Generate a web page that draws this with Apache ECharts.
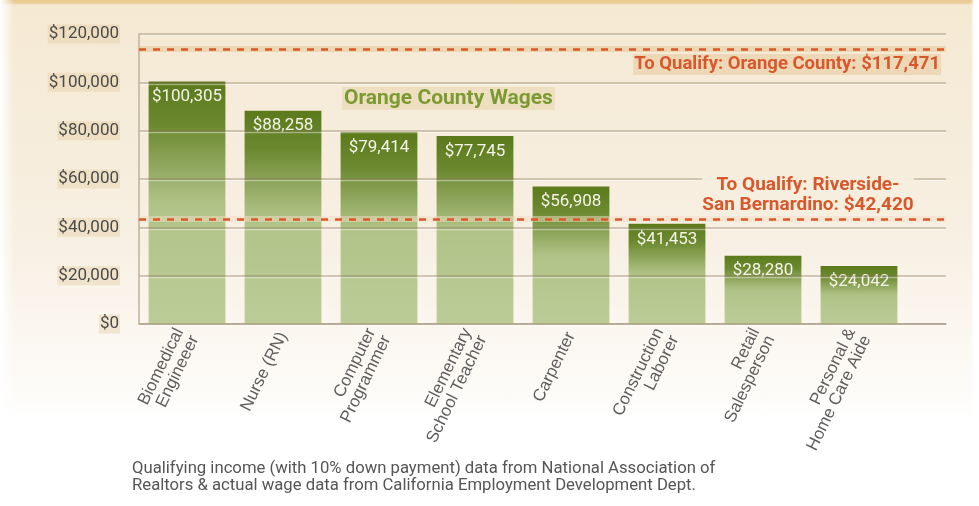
<!DOCTYPE html>
<html>
<head>
<meta charset="utf-8">
<script src="https://cdn.jsdelivr.net/npm/echarts@6/dist/echarts.min.js"></script>
<style>
html, body { margin: 0; padding: 0; background: #fff; }
#myChart {
	width: 979px; height: 506px;
	background:
		linear-gradient(to right, #fff 0, rgba(255,255,255,0) 14px, rgba(255,255,255,0) 971px, #fff 974px),
		linear-gradient(to bottom, #e8c98f 0, #ebd09d 3px, #f5e9d3 5px, #f6ecda 120px, #f8f0e4 250px, #fbf7f0 330px, #fdfbf8 390px, #fff 420px);
}
</style>
</head>
<body>
<div id="myChart"></div>
<script>
var categories = ['Biomedical\nEngineeer', 'Nurse (RN)', 'Computer\nProgrammer', 'Elementary\nSchool Teacher',
	'Carpenter', 'Construction\nLaborer', 'Retail\nSalesperson', 'Personal &\nHome Care Aide'];
var wages = [100305, 88258, 79414, 77745, 56908, 41453, 28280, 24042];
// where the dashed lines sit in the picture, and what they say
var qualifyLevels = [113800, 43450];
var qualifyText = ['To Qualify: Orange County: $117,471', 'To Qualify: Riverside-\nSan Bernardino: $42,420'];
var yTicks = [0, 20000, 40000, 60000, 80000, 100000, 120000];

var narrow = "Roboto, 'Liberation Sans', sans-serif";
var money = function(v){
	return '$' + Number(v).toLocaleString('en-US');
};

var myChart = echarts.init(document.getElementById('myChart'));
var option = {
	backgroundColor: 'transparent',
	title: [{
		text: 'Orange County Wages',
		left: 342, top: 87,
		padding: [1, 2],
		backgroundColor: 'rgba(228,205,160,0.4)',
		textStyle: { color: '#7b9a30', fontSize: 21, fontWeight: 'bold', fontFamily: narrow }
	}, {
		text: 'Qualifying income (with 10% down payment) data from National Association of\nRealtors & actual wage data from California Employment Development Dept.',
		left: 132, top: 460,
		padding: 0,
		textStyle: { color: '#555', fontSize: 16.7, lineHeight: 17, fontWeight: 'normal', fontFamily: narrow }
	}],
	grid: [
		{ left: 139, right: 33, top: 34, height: 290 },
		{ left: 139, width: 768, top: 34, height: 290 }
	],
	xAxis: [{
		gridIndex: 0, type: 'category', data: categories,
		axisLine: { lineStyle: { color: '#c2baa9', width: 1.5 } },
		axisTick: { show: false }, axisLabel: { show: false }
	}, {
		gridIndex: 1, type: 'category', data: categories,
		axisLine: { show: false }, axisTick: { show: false },
		axisLabel: {
			rotate: 64, margin: 9, interval: 0,
			color: '#5e5e5e', fontSize: 17, lineHeight: 17,
			fontFamily: "'Liberation Sans', 'DejaVu Sans', sans-serif"
		}
	}],
	yAxis: [{
		gridIndex: 0, type: 'value', min: yTicks[0], max: yTicks[yTicks.length - 1], interval: 20000,
		z: 3,
		axisLine: { show: true, lineStyle: { color: '#bfb29a', width: 1.5 } },
		axisTick: { show: false },
		axisLabel: {
			margin: 19, color: '#4a4a4a', fontSize: 17, fontFamily: narrow,
			backgroundColor: 'rgba(228,205,160,0.4)', padding: [1, 1],
			formatter: money
		},
		splitLine: { lineStyle: { color: 'rgba(130,110,80,0.45)', width: 1.5,
			shadowColor: 'rgba(255,255,255,0.9)', shadowOffsetY: 1.5 } }
	}, {
		gridIndex: 1, type: 'value', min: yTicks[0], max: yTicks[yTicks.length - 1], interval: 20000,
		show: false
	}],
	series: [{
		name: 'wages',
		type: 'bar',
		xAxisIndex: 1, yAxisIndex: 1,
		data: wages,
		barCategoryGap: '20%',
		itemStyle: {
			color: new echarts.graphic.LinearGradient(0, 0, 0, 1, [
				{ offset: 0, color: '#5b7a1b' },
				{ offset: 0.18, color: '#6c8930' },
				{ offset: 0.5, color: '#b0c387' },
				{ offset: 1, color: '#bccc97' }
			])
		},
		label: {
			show: true, position: 'insideTop', distance: 7,
			color: '#f6f3e8', fontSize: 17, fontFamily: narrow,
			formatter: function(p){ return money(p.value); }
		}
	}, {
		name: 'qualify',
		type: 'line',
		xAxisIndex: 0, yAxisIndex: 0,
		data: wages,
		silent: true, showSymbol: false, symbol: 'none',
		lineStyle: { opacity: 0 },
		z: 5,
		markLine: {
			silent: true, symbol: 'none',
			data: [
				{ yAxis: qualifyLevels[0], lineStyle: { color: 'rgba(226,196,145,0.5)', width: 6, type: 'solid' }, label: { show: false } },
				{ yAxis: qualifyLevels[1], lineStyle: { color: 'rgba(240,222,195,0.5)', width: 6, type: 'solid' }, label: { show: false } },
				{
					yAxis: qualifyLevels[0],
					lineStyle: { color: '#dc5729', width: 2.5, type: [7, 7] },
					label: {
						show: true, position: 'insideEndBottom', distance: 5,
						formatter: qualifyText[0],
						color: '#d9582b', fontSize: 18.5, fontWeight: 'bold', fontFamily: narrow,
						backgroundColor: 'rgba(226,196,145,0.45)', padding: [1, 1]
					}
				}, {
					yAxis: qualifyLevels[1],
					lineStyle: { color: '#dc5729', width: 2.5, type: [7, 7] },
					label: {
						show: true, position: 'insideEndTop', distance: 4,
						formatter: qualifyText[1].split('\n').map(function(s){ return '{a|' + s + '}'; }).join('\n'),
						padding: [0, 28, 0, 0],
						rich: {
							a: {
								color: '#d9582b', fontSize: 19, fontWeight: 'bold', fontFamily: narrow,
								lineHeight: 20, width: 212, align: 'center',
								backgroundColor: 'rgba(246,237,221,0.95)'
							}
						}
					}
				}
			]
		}
	}]
};
myChart.setOption(option);
</script>
</body>
</html>
